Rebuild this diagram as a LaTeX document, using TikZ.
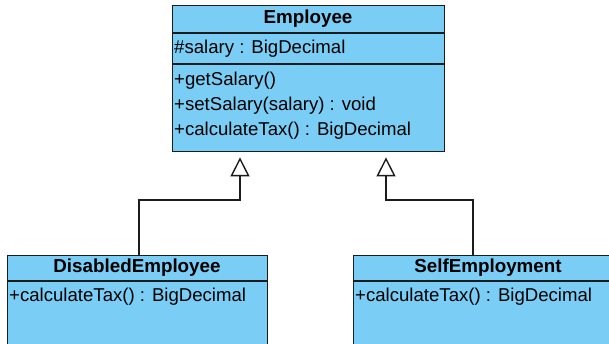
\documentclass[tikz,border=0pt]{standalone}
\usepackage{fontspec}
\setmainfont{Liberation Sans}
\usetikzlibrary{arrows.meta}
\definecolor{classfill}{RGB}{122,206,245}
\definecolor{umlline}{RGB}{28,28,28}
\begin{document}
\begin{tikzpicture}[x=1pt,y=-1pt,
  classbox/.style={draw=umlline, line width=1.4pt, fill=classfill, anchor=north west, inner sep=0pt},
  sep/.style={draw=umlline, line width=1.4pt},
  classname/.style={font=\fontsize{18.8}{22}\selectfont\bfseries, inner sep=0pt},
  member/.style={font=\fontsize{18.6}{22}\selectfont, inner sep=0pt, anchor=west},
  inherit/.style={draw=umlline, line width=1.4pt, shorten >=5pt,
    -{Triangle[open, width=19pt, length=19pt, fill=white, line width=1.4pt]}}]
\useasboundingbox (0,0) rectangle (609,344);
\clip (0,0) rectangle (609,344);

% Employee
\node[classbox, minimum width=272pt, minimum height=146pt] (emp) at (172,5) {};
\draw[sep] (172,33) -- (444,33);
\draw[sep] (172,64) -- (444,64);
\node[classname] (empname) at (308,19) {Employee};
\node[member] (empattr) at (174,49) {\#salary : BigDecimal};
\node[member] (empm1) at (174,81) {+getSalary()};
\node[member] (empm2) at (174,106) {+setSalary(salary) : void};
\node[member] (empm3) at (174,131) {+calculateTax() : BigDecimal};

% DisabledEmployee
\node[classbox, minimum width=260pt, minimum height=120pt] (dis) at (7,255) {};
\draw[sep] (7,281) -- (267,281);
\node[classname] (disname) at (137,268) {DisabledEmployee};
\node[member] (dism1) at (9,297) {+calculateTax() : BigDecimal};

% SelfEmployment
\node[classbox, minimum width=270pt, minimum height=120pt] (self) at (353,255) {};
\draw[sep] (353,281) -- (623,281);
\node[classname] (selfname) at (488,268) {SelfEmployment};
\node[member] (selfm1) at (355,297) {+calculateTax() : BigDecimal};

% Generalizations
\coordinate (disbend) at (139,200);
\coordinate (selfbend) at (473,200);
\draw[inherit] (dis.north west -| disbend) -- (disbend) -| (emp.south west -| 240,0);
\draw[inherit] (self.north west -| selfbend) -- (selfbend) -| (emp.south west -| 386,0);
\end{tikzpicture}
\end{document}
